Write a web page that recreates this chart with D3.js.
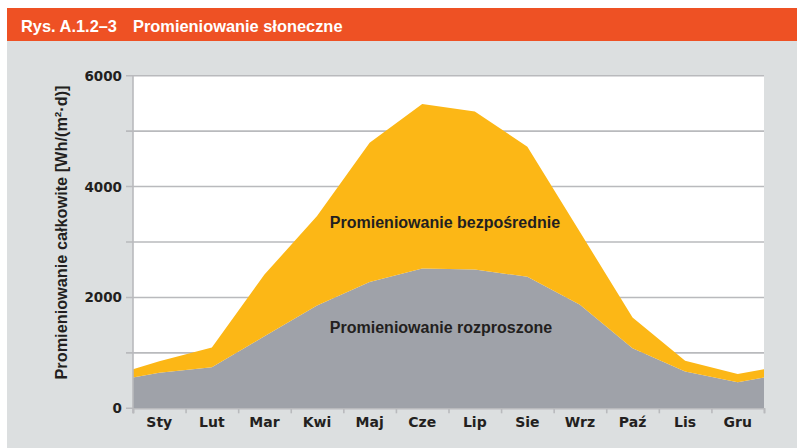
<!DOCTYPE html>
<html>
<head>
<meta charset="utf-8">
<script src="https://cdn.jsdelivr.net/npm/d3@7"></script>
<style>
  body { margin: 0; background: #fff; }
  svg text { font-family: "Liberation Sans", Arial, sans-serif; font-weight: bold; }
</style>
</head>
<body>
<script>
// months and values (Wh/(m2*d))
const months = ["Sty", "Lut", "Mar", "Kwi", "Maj", "Cze", "Lip", "Sie", "Wrz", "Paź", "Lis", "Gru"];
const diffuse = [640, 740, 1300, 1855, 2280, 2520, 2505, 2372, 1869, 1085, 662, 470];
const direct = [210, 357, 1112, 1615, 2510, 2970, 2850, 2348, 1311, 555, 194, 150];
// value where the areas meet the left/right edge of the plot
const edgeDiffuse = 557;
const edgeDirect = 148;
const yTicks = [0, 1000, 2000, 3000, 4000, 5000, 6000];
const yLabels = [0, 2000, 4000, 6000];

const W = 797, H = 448;
const margin = { left: 133, right: 33, top: 75.7, bottom: 39.7 };
const ink = "#231f20";

var svg = d3.select("body")
    .append("svg")
    .attr("width", W)
    .attr("height", H);

// background + header band
svg.append("rect").attr("x", 7).attr("y", 40).attr("width", W - 7).attr("height", H - 40).attr("fill", "#dcdfe0");
svg.append("rect").attr("x", 7).attr("y", 8).attr("width", W - 7).attr("height", 33).attr("fill", "#ee5124");
svg.append("text")
    .attr("x", 21).attr("y", 31.5)
    .attr("fill", "#fff")
    .attr("font-size", 16.4)
    .text("Rys. A.1.2–3");
svg.append("text")
    .attr("x", 133).attr("y", 31.5)
    .attr("fill", "#fff")
    .attr("font-size", 16.4)
    .text("Promieniowanie słoneczne");

const x = d3.scaleLinear().domain([0, 12]).range([margin.left, W - margin.right]);
const xBand = d3.scaleBand().domain(months).range([margin.left, W - margin.right]);
const y = d3.scaleLinear().domain([0, 6000]).range([H - margin.bottom, margin.top]);

// plot area
svg.append("rect")
    .attr("x", x(0)).attr("y", y(6000))
    .attr("width", x(12) - x(0)).attr("height", y(0) - y(6000))
    .attr("fill", "#fff");

// grid
svg.append("g").selectAll("line")
    .data(yTicks).enter().append("line")
    .attr("x1", x(0) - 7).attr("x2", x(12))
    .attr("y1", d => y(d)).attr("y2", d => y(d))
    .attr("stroke", "#b9babd").attr("stroke-width", 1.6);

// stacked areas
const points = [{ pos: 0, diffuse: edgeDiffuse, direct: edgeDirect }]
    .concat(months.map((m, i) => ({ pos: i + 0.5, diffuse: diffuse[i], direct: direct[i] })))
    .concat([{ pos: 12, diffuse: edgeDiffuse, direct: edgeDirect }]);

const series = d3.stack().keys(["diffuse", "direct"])(points);
const colors = { diffuse: "#9fa2a9", direct: "#fcb716" };

const area = d3.area()
    .x(d => x(d.data.pos))
    .y0(d => y(d[0]))
    .y1(d => y(d[1]));

svg.append("g").selectAll("path")
    .data(series).enter().append("path")
    .attr("fill", d => colors[d.key])
    .attr("d", area);

// left axis line
svg.append("line")
    .attr("x1", x(0)).attr("x2", x(0))
    .attr("y1", y(6000) - 0.8).attr("y2", y(0) + 5)
    .attr("stroke", "#b9babd").attr("stroke-width", 1.6);

// y labels
svg.append("g").selectAll("text")
    .data(yLabels).enter().append("text")
    .attr("x", x(0) - 11)
    .attr("y", d => y(d) + 5)
    .attr("text-anchor", "end")
    .style("font-family", "'DejaVu Sans', sans-serif")
    .attr("font-size", 13.5)
    .attr("fill", ink)
    .text(d => d);

// x axis: boundary ticks
const xAxisGroup = svg.append("g")
    .attr("transform", `translate(0,${y(0)})`)
    .call(d3.axisBottom(x).tickValues(d3.range(13)).tickSize(5).tickFormat(""));
xAxisGroup.selectAll("line, path").attr("stroke", "#b9babd").attr("stroke-width", 1.6);

// month labels
const monthAxis = svg.append("g")
    .attr("transform", `translate(0,${y(0)})`)
    .call(d3.axisBottom(xBand).tickSize(0).tickPadding(9));
monthAxis.select(".domain").remove();
monthAxis.selectAll("text")
    .attr("font-size", 14)
    .style("font-family", "'DejaVu Sans', sans-serif")
    .attr("fill", ink);

// area labels
svg.append("text")
    .attr("x", 445).attr("y", 227.5)
    .attr("text-anchor", "middle")
    .attr("font-size", 16)
    .attr("fill", ink)
    .text("Promieniowanie bezpośrednie");

svg.append("text")
    .attr("x", 441).attr("y", 332.5)
    .attr("text-anchor", "middle")
    .attr("font-size", 16)
    .attr("fill", ink)
    .text("Promieniowanie rozproszone");

// y axis title
svg.append("text")
    .attr("transform", "translate(67,232.5) rotate(-90)")
    .attr("text-anchor", "middle")
    .attr("font-size", 16.3)
    .attr("fill", ink)
    .text("Promieniowanie całkowite [Wh/(m²·d)]");
</script>
</body>
</html>
